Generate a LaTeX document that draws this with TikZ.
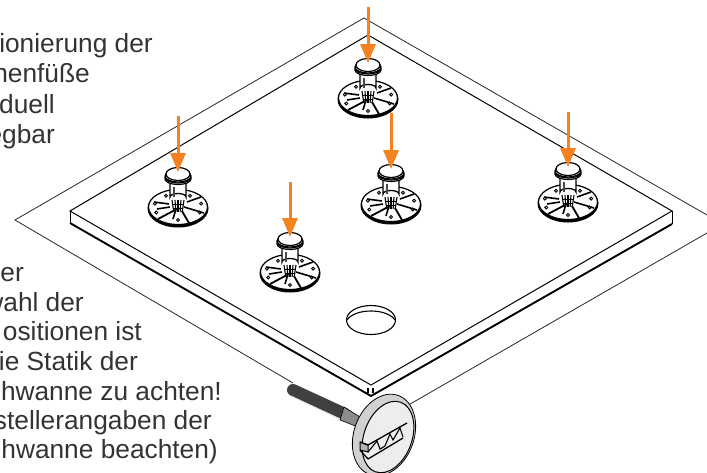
\documentclass[tikz,border=0pt]{standalone}
\usepackage{fontspec}
\usepackage{xcolor}
\setmainfont{Liberation Sans}
\usetikzlibrary{arrows.meta}
\definecolor{pfeilorange}{HTML}{F58220}
\definecolor{schrift}{HTML}{333333}
\tikzset{
	outline/.style={line width=0.8pt,black!85},
	plate/.style={line width=1pt,black},
	plateedge/.style={line width=1.9pt,black},
	pointer/.style={line width=3pt,pfeilorange,-{Triangle[length=19pt,width=15pt]}},
	txt/.style={anchor=base east,inner sep=0pt,text=schrift,font=\fontsize{26.3}{30}\selectfont},
	foot/.pic={
		\fill[black] (0,1.5) ellipse [x radius=30.5,y radius=19];
		\draw[line width=1.2pt,fill=white] (0,0) ellipse [x radius=29.5,y radius=17.5];
		\foreach \a in {15,60,120,165,205,270,335}
			\draw[line width=0.9pt] ({24*cos(\a)},{-13*sin(\a)}) circle (1.5);
		\draw[line width=1.8pt] (-3,3) -- (-20,12);
		\draw[line width=1.8pt] (4,4) -- (11,16);
		\draw[line width=1.6pt] (6,0) -- (26,6);
		\draw[line width=1.6pt] (-24,-5) -- (-9,-3);
		\draw[line width=1.6pt] (-21,2) -- (-8,0);
		\draw[line width=1.6pt] (9,-5) -- (23,-10);
		\draw[line width=1.6pt] (-2,2) -- (-5,12);
		\foreach \x in {-6,-3,...,6}
			\draw[line width=1.1pt] (\x,-7) -- (\x*0.7,5);
		\draw[line width=0.9pt] (-6,-3) -- (6,-3);
		\draw[line width=0.9pt] (-5,1) -- (5,1);
		\draw[line width=1.3pt,fill=white] (-8,-26) -- (-8,-10) arc (180:360:8 and 3.5) -- (8,-26);
		\draw[line width=1.4pt,black!70] (-4,-20) -- (-4,-10);
		\draw[line width=1.2pt,fill=white] (0,-28) ellipse [x radius=13,y radius=5.5];
		\draw[line width=1.2pt,fill=white] (0,-29.5) ellipse [x radius=13,y radius=5.5];
		\draw[line width=1.2pt,fill=white] (0,-31) ellipse [x radius=13,y radius=6];
		\draw[line width=1.2pt,fill=white] (0,-33) ellipse [x radius=12,y radius=6.5];
		\coordinate (head) at (0,-35);
	}
}

\begin{document}
\begin{tikzpicture}[x=1pt,y=-1pt]
	\path[use as bounding box,clip] (0,0) rectangle (707,472);

	% tray
	\draw[outline] (293,383) -- (15,220) -- (364,18) -- (707,215);
	\draw[outline] (707,233) -- (405,407);

	% plate
	\coordinate (pl) at (70,211);
	\coordinate (pt) at (368,35);
	\coordinate (pr) at (672,211);
	\coordinate (pb) at (371,385);
	\draw[plate] (pb) -- (pl) -- (pt) -- (pr) -- cycle;
	\draw[plate] (pl) -- (70,223);
	\draw[plate] (pr) -- (672,224);
	\draw[plateedge] (70,223) -- (371,396) -- (672,224);
	\draw[line width=1.1pt] (368,388) -- (368,393);
	\draw[line width=1.1pt] (373,388) -- (373,393);

	% hole
	\draw[line width=1.1pt] (371,320) ellipse [x radius=24.5,y radius=14.5];
	\draw[line width=1.1pt] (347,320) .. controls (355,308) and (387,308) .. (395,320);

	% feet
	\foreach \n/\x/\y/\t in {1/178/207/116,2/290/272/182,3/368/98/7,4/391/204/113,5/568/202/112}{
		\pic (f\n) at (\x,\y) {foot};
		\coordinate (tail\n) at (\x,\t);
		\draw[pointer] (tail\n) -- (f\n head);
	}

	% magnifier
	\draw[line width=12pt,line cap=round,black!75] (293,390) -- (345,414);
	\draw[line width=0.7pt,black!15] (291,396) -- (342,420);
	\fill[black!45,draw=black,line width=0.6pt] (344,407) -- (360,417) -- (358,427) -- (340,420) -- cycle;
	\draw[line width=0.8pt,fill=black!18] (384,435) [rotate around={-20:(384,435)}] ellipse [x radius=30,y radius=42];
	\draw[line width=1pt,fill=black!7] (388,437) [rotate around={-20:(388,437)}] ellipse [x radius=24,y radius=37];

	\draw[line width=1pt,fill=black!30] (360,442) -- (368,445) -- (368,452) -- (360,450) -- cycle;
	\draw[line width=1.3pt] (360,442) -- (368,445) -- (407,423);
	\draw[line width=1.3pt] (368,459) -- (403,438);
	\draw[line width=1.3pt] (360,450) -- (368,459);
	\draw[line width=1.1pt] (368,452) -- (377,441) -- (380,449) -- (385,446) -- (390,434) -- (393,440) -- (400,428) -- (403,437);

	% text
	\node[txt] (t1) at (153,52) {ionierung der};
	\node[txt] (t2) at (90,82) {henfüße};
	\node[txt] (t3) at (55,113) {duell};
	\node[txt] (t4) at (55,143) {egbar};
	\node[txt] (t5) at (24,281) {er};
	\node[txt] (t6) at (84,311) {wahl der};
	\node[txt] (t7) at (142,340) {ositionen ist};
	\node[txt] (t8) at (138,370) {ie Statik der};
	\node[txt] (t9) at (222,400) {hwanne zu achten!};
	\node[txt] (t10) at (212,429) {stellerangaben der};
	\node[txt] (t11) at (218,458) {hwanne beachten)};
\end{tikzpicture}
\end{document}
